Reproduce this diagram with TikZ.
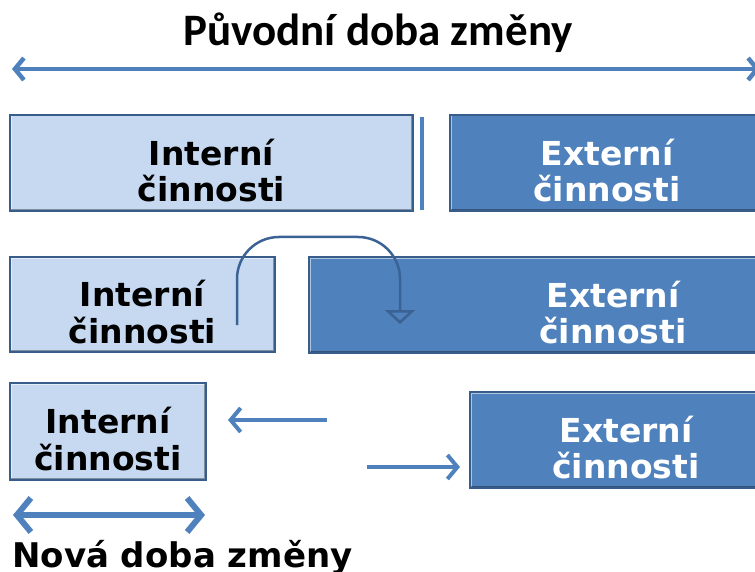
\documentclass[tikz,border=0pt]{standalone}
\usepackage{fontspec}
\setmainfont{DejaVu Sans}
\newfontfamily\titlefont{Carlito}
\usepackage{xcolor}
\usetikzlibrary{arrows.meta}

\definecolor{boxlight}{HTML}{C6D9F1}
\definecolor{boxdark}{HTML}{4F81BD}
\definecolor{boxedge}{HTML}{385D8A}
\definecolor{arrowblue}{HTML}{4F81BD}
\definecolor{curveblue}{HTML}{3B6294}

% two lines of box text, set a little below the middle
\newcommand\boxlines[2]{\raisebox{-19pt}[0pt][0pt]{\begin{tabular}{@{}c@{}}#1\\[-1pt]#2\end{tabular}}}

\tikzset{
  bevel/.style={path picture={
      \draw[white, opacity=.55, line width=3pt]
        (path picture bounding box.south west) -- (path picture bounding box.north west)
        -- (path picture bounding box.north east);
      \draw[black, opacity=.35, line width=4pt]
        (path picture bounding box.north east) -- (path picture bounding box.south east)
        -- (path picture bounding box.south west);}},
  internbox/.style={rectangle, bevel, fill=boxlight, draw=boxedge, line width=1.5pt,
    text=black, font=\bfseries\fontsize{33}{36}\selectfont},
  externbox/.style={internbox, fill=boxdark, text=white},
  timearrow/.style={draw=arrowblue, line width=4.5pt,
    {Straight Barb[length=9pt,width=22pt,line width=4.5pt]}-{Straight Barb[length=9pt,width=22pt,line width=4.5pt]}},
  movearrow/.style={draw=arrowblue, line width=4pt,
    -{Straight Barb[length=10pt,width=24pt,line width=4pt]}},
}

\begin{document}
\begin{tikzpicture}[x=1pt,y=1pt]
  \useasboundingbox (0,0) rectangle (755,-572);
  \clip (0,0) rectangle (755,-572);

  % original changeover time
  \node[font=\titlefont\bfseries\fontsize{45}{48}\selectfont] (puvodni) at (378,-33) {Původní doba změny};
  \coordinate (puvL) at (12,-69);
  \coordinate (puvR) at (760,-69);
  \draw[timearrow] (puvL) -- (puvR);

  % row 1: everything in one block
  \node[internbox, minimum width=403pt, minimum height=96pt] (int1) at (211.5,-163) {\boxlines{Interní}{činnosti}};
  \node[externbox, minimum width=314pt, minimum height=96pt] (ext1) at (607,-163) {\boxlines{Externí}{činnosti}};
  \coordinate (sepT) at (422,-117);
  \coordinate (sepB) at (422,-210);
  \draw[arrowblue, line width=3.5pt] (sepT) -- (sepB);

  % row 2: moving internal to external
  \node[internbox, minimum width=265pt, minimum height=95pt] (int2) at (142.5,-304.5) {\boxlines{Interní}{činnosti}};
  \node[externbox, minimum width=608pt, minimum height=96pt] (ext2) at (613,-305) {\boxlines{Externí}{činnosti}};
  \coordinate (movS) at (237,-325);
  \coordinate (movE) at (400,-324);
  \draw[curveblue, line width=2.5pt, rounded corners=42pt,
        -{Triangle[open,length=14pt,width=30pt,line width=2.5pt]}]
    (movS) -- (movS |- 0,-237) -- (movE |- 0,-237) -- (movE);

  % row 3: shortened changeover
  \node[internbox, minimum width=196pt, minimum height=97pt] (int3) at (108,-431.5) {\boxlines{Interní}{činnosti}};
  \node[externbox, minimum width=312pt, minimum height=96pt] (ext3) at (626,-440) {\boxlines{Externí}{činnosti}};
  \coordinate (leftS) at (327,-420);
  \coordinate (leftE) at (228,-420);
  \coordinate (rightS) at (367,-467);
  \coordinate (rightE) at (460,-467);
  \draw[movearrow] (leftS) -- (leftE);
  \draw[movearrow] (rightS) -- (rightE);

  % new changeover time
  \coordinate (novL) at (13,-515);
  \coordinate (novR) at (205,-515);
  \draw[draw=arrowblue, line width=6pt,
        {Straight Barb[length=14pt,width=34pt,line width=6pt]}-{Straight Barb[length=14pt,width=34pt,line width=6pt]}]
    (novL) -- (novR);
  \node[anchor=base west, inner sep=0pt, font=\bfseries\fontsize{34}{36}\selectfont] (nova) at (12,-567) {Nová doba změny};
\end{tikzpicture}
\end{document}
